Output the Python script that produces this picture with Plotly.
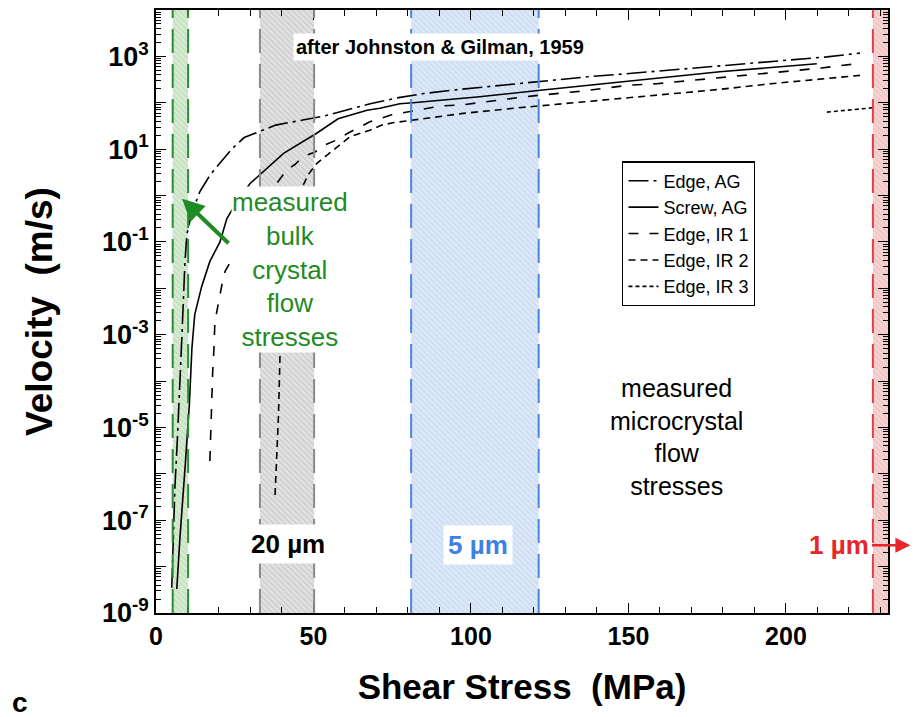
import plotly.graph_objects as go

# ---------------- data ----------------
# stress in MPa, velocity in m/s
ag_x = [5.0, 5.5, 6.0, 6.8, 7.6, 8.2, 9.2, 9.8, 11.2, 13.9, 17.2, 20, 24, 28, 32.5, 38, 47, 53, 62, 68,
        77, 85, 95, 107, 122, 137, 152, 167, 183, 198, 213, 223.5]
ag_v = [3.5e-9, 4.2e-8, 5e-7, 5.9e-6, 7.1e-5, 8.5e-4, 0.038, 0.145, 0.39, 1.2, 2.8, 4.8, 10, 17.8, 23.4,
        33, 43, 51, 74, 95, 129, 158, 190, 229, 295, 363, 437, 537, 661, 794, 977, 1175]

sc_x = [6.6, 7.6, 9.3, 10.6, 11.4, 12.3, 14.5, 17.1, 20.3, 22.5, 25.5, 29.8, 40.5, 51, 57.8, 67, 71.1,
        77.4, 81.6, 102.7, 122, 147.4, 179, 209.8]
sc_v = [3.3e-9, 4.2e-8, 1.6e-6, 3.2e-5, 5.1e-4, 2.7e-3, 0.011, 0.038, 0.1, 0.32, 0.7, 1.8, 8.1, 22, 45,
        69, 76, 95, 100, 135, 186, 282, 468, 692]

ir1_x = [17.1, 17.5, 18.0, 18.4, 18.7, 20.9, 21.9, 36.7, 38.3, 41.5, 44.0, 46.7, 50.5, 53.7, 57.4, 60.9,
         67.9, 74.8, 82.8, 90.1, 97.7, 105, 112.6, 119.8, 127.2, 135.1, 143.1, 150.4, 158.9, 165.3,
         172.7, 180.7, 188.1, 195.5, 203.3, 211.3, 221]
ir1_v = [1.9e-6, 2.2e-5, 1.6e-4, 5.1e-4, 1.9e-3, 0.0117, 0.023, 1.4, 1.8, 3.6, 4.6, 6.9, 8.7, 12.3, 15.8,
         22, 39, 55, 69, 85, 91, 107, 123, 141, 155, 178, 209, 240, 257, 282, 316, 363, 398, 447, 501,
         562, 676]

ir2_x = [37.8, 38.9, 39.4, 46.2, 48.3, 51, 53.7, 57.4, 61.6, 67.9, 71.7, 75.2, 82.8, 97.5, 113.4, 129.2,
         145.1, 163.3, 179.2, 195.1, 211, 223.5]
ir2_v = [3.5e-7, 1.9e-5, 4.4e-4, 1.4, 2.8, 4.9, 6.9, 11.2, 18.6, 25.7, 33, 37, 43, 59, 76, 95, 123, 158,
         195, 257, 331, 389]

ir3_x = [213, 220, 227.6]
ir3_v = [63, 69, 78]

series_names = ["Edge, AG", "Screw, AG", "Edge, IR 1", "Edge, IR 2", "Edge, IR 3"]

# shaded stress bands (MPa)
band_lo = [5.3, 33, 81, 227.6]
band_hi = [10.2, 50.2, 121.5, 233]
band_line = ["#2e8b35", "#8a8a8a", "#4a86e0", "#e0404a"]
band_bg = ["#d6ecd2", "#e2e2e2", "#dde8f7", "#f6d4d4"]
band_fg = ["#a9cfa3", "#b4b4b4", "#b6cdee", "#e8a9a9"]

x_ticks = [0, 50, 100, 150, 200]
y_exp = list(range(-9, 5))

FONT = "Arial, Liberation Sans, sans-serif"

fig = go.Figure()

# bands
for lo, hi, bg, fg in zip(band_lo, band_hi, band_bg, band_fg):
    fig.add_trace(go.Scatter(
        x=[lo, hi, hi, lo, lo], y=[1e-10, 1e-10, 1e5, 1e5, 1e-10],
        mode="lines", line=dict(width=0), fill="toself", fillcolor=bg,
        fillpattern=dict(shape="\\", bgcolor=bg, fgcolor=fg, size=4, solidity=0.35),
        showlegend=False, hoverinfo="skip"))

styles = [
    dict(dash="20px,5px,3px,5px"),
    dict(dash="solid"),
    dict(dash="10px,11px"),
    dict(dash="7px,5px"),
    dict(dash="4px,3px"),
]
data = [(ag_x, ag_v), (sc_x, sc_v), (ir1_x, ir1_v), (ir2_x, ir2_v), (ir3_x, ir3_v)]
for (xs, vs), name, st in zip(data, series_names, styles):
    fig.add_trace(go.Scatter(x=xs, y=vs, name=name, mode="lines",
                             line=dict(color="black", width=1.6, **st)))

# band borders
shapes = []
for lo, hi, c in zip(band_lo, band_hi, band_line):
    for xv in (lo, hi):
        shapes.append(dict(type="line", xref="x", yref="paper", x0=xv, x1=xv, y0=0, y1=1,
                           line=dict(color=c, width=2, dash="24px,11px")))

ann = []
ann.append(dict(x=90.2, y=3.2, xref="x", yref="y", text="<b>after Johnston & Gilman, 1959</b>",
                showarrow=False, font=dict(size=20, color="black", family=FONT), bgcolor="white",
                borderpad=2))
ann.append(dict(x=42.5, y=-1.59, xref="x", yref="y",
                text="measured<br>bulk<br>crystal<br>flow<br>stresses",
                showarrow=False, font=dict(size=26, color="#1f8b24", family=FONT), bgcolor="white",
                borderpad=0))
ann.append(dict(x=8.3, y=-0.07, xref="x", yref="y", ax=23.5, ay=-1.06, axref="x", ayref="y",
                text="", showarrow=True, arrowhead=2, arrowsize=1.1, arrowwidth=4,
                arrowcolor="#1f8b24"))
ann.append(dict(x=41.9, y=-7.52, xref="x", yref="y", text="<b>20 µm</b>", showarrow=False,
                font=dict(size=26, color="black", family=FONT), bgcolor="white", borderpad=4))
ann.append(dict(x=102.2, y=-7.54, xref="x", yref="y", text="<b>5 µm</b>", showarrow=False,
                font=dict(size=26, color="#3c82e6", family=FONT), bgcolor="white", borderpad=4))
ann.append(dict(x=239.5, y=-7.54, xref="x", yref="y", ax=217.0, ay=-7.54, axref="x", ayref="y",
                text="<b>1 µm</b>", showarrow=True, arrowhead=2, arrowsize=1.2, arrowwidth=2.5,
                arrowcolor="#e8262a", font=dict(size=26, color="#e8262a", family=FONT),
                bgcolor="white", borderpad=2))
ann.append(dict(x=165.4, y=-5.2, xref="x", yref="y",
                text="measured<br>microcrystal<br>flow<br>stresses", showarrow=False,
                font=dict(size=25, color="black", family=FONT)))
ann.append(dict(x=-0.186, y=-0.149, xref="paper", yref="paper", xanchor="center", yanchor="middle",
                text="<b>c</b>", showarrow=False, font=dict(size=28, color="black", family=FONT)))

fig.update_layout(
    width=919, height=717,
    margin=dict(l=156, r=31, t=8, b=104),
    paper_bgcolor="white", plot_bgcolor="white",
    font=dict(family=FONT, color="black"),
    shapes=shapes, annotations=ann,
    legend=dict(x=0.637, y=0.749, xanchor="left", yanchor="top", bgcolor="white",
                bordercolor="black", borderwidth=1.2, font=dict(size=18, family=FONT),
                tracegroupgap=0),
)

fig.update_xaxes(
    range=[0, 232.4], tickvals=x_ticks, ticktext=[str(t) for t in x_ticks],
    ticks="inside", ticklen=10, tickwidth=1.2, tickcolor="black",
    minor=dict(dtick=10, tick0=0, ticks="inside", ticklen=6, tickwidth=1, tickcolor="black"),
    showline=True, linecolor="black", linewidth=1.5, mirror="ticks", showgrid=False, zeroline=False,
    tickfont=dict(size=25, weight="bold", family=FONT),
    title=dict(text="<b>Shear Stress  (MPa)</b>", font=dict(size=35, family=FONT), standoff=26),
)

fig.update_yaxes(
    type="log", range=[-9, 4],
    tickvals=[10.0 ** k for k in y_exp],
    ticktext=[(f"10<sup>{k}</sup>" if k % 2 != 0 and k < 4 else "") for k in y_exp],
    ticks="inside", ticklen=10, tickwidth=1.2, tickcolor="black",
    minor=dict(tickmode="array", tickvals=[m * 10.0 ** k for k in y_exp[:-1] for m in range(2, 10)],
               ticks="inside", ticklen=5, tickwidth=1, tickcolor="black"),
    showline=True, linecolor="black", linewidth=1.5, mirror="ticks", showgrid=False, zeroline=False,
    tickfont=dict(size=27, weight="bold", family=FONT),
    title=dict(text="<b>Velocity  (m/s)</b>", font=dict(size=37, family=FONT), standoff=38),
)

fig.write_html("out.html")
